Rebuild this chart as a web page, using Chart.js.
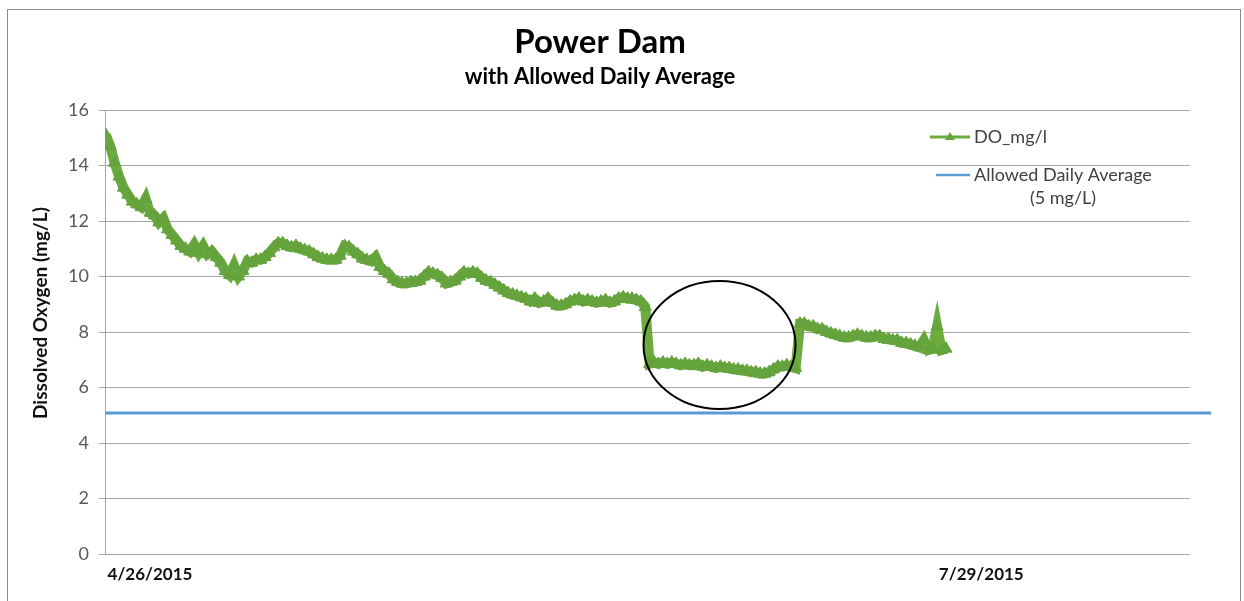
<!DOCTYPE html>
<html>
<head>
<meta charset="utf-8">
<title>Power Dam</title>
<script src="https://cdn.jsdelivr.net/npm/chart.js@4.4.0/dist/chart.umd.min.js"></script>
<style>
  html, body { margin: 0; padding: 0; background: #ffffff; }
  #box { position: relative; width: 1244px; height: 601px; }
</style>
</head>
<body>
<div id="box"><canvas id="myChart"></canvas></div>
<script>
// DATA

var startDay = -5;     // first reading, days after 4/26/2015
var stepDays = 0.5;    // one reading every 12 hours

var doValues = [
  15.1, 14.7, 14.1, 13.6, 13.2, 12.95, 12.7, 12.6, 12.5, 12.8,
  12.3, 12.2, 11.95, 12.1, 11.7, 11.5, 11.3, 11.1, 11.0, 10.9,
  11.15, 10.85, 11.1, 10.8, 10.9, 10.7, 10.5, 10.2, 10.05, 10.4,
  10.0, 10.2, 10.55, 10.5, 10.6, 10.6, 10.7, 10.85, 11.05, 11.2,
  11.2, 11.1, 11.05, 11.1, 11.0, 10.95, 10.9, 10.8, 10.7, 10.65,
  10.6, 10.6, 10.6, 10.75, 11.1, 11.05, 10.9, 10.8, 10.65, 10.6,
  10.55, 10.7, 10.35, 10.2, 10.1, 9.9, 9.8, 9.75, 9.75, 9.8,
  9.8, 9.85, 10.0, 10.15, 10.1, 10.05, 9.95, 9.75, 9.8, 9.85,
  10.0, 10.15, 10.1, 10.15, 10.1, 9.95, 9.85, 9.8, 9.7, 9.6,
  9.5, 9.4, 9.35, 9.3, 9.25, 9.2, 9.1, 9.2, 9.05, 9.1,
  9.2, 9.05, 8.95, 8.95, 9.0, 9.1, 9.15, 9.2, 9.1, 9.15,
  9.1, 9.05, 9.1, 9.15, 9.05, 9.1, 9.2, 9.25, 9.2, 9.2,
  9.15, 9.1, 8.9, 6.85, 6.9, 6.85, 6.9, 6.85, 6.9, 6.85,
  6.8, 6.85, 6.8, 6.8, 6.85, 6.75, 6.8, 6.75, 6.7, 6.75,
  6.7, 6.7, 6.65, 6.65, 6.6, 6.6, 6.55, 6.55, 6.5, 6.5,
  6.55, 6.65, 6.75, 6.75, 6.8, 6.75, 6.7, 8.3, 8.3, 8.2,
  8.2, 8.1, 8.1, 8.0, 7.95, 7.9, 7.85, 7.8, 7.8, 7.85,
  7.9, 7.85, 7.8, 7.8, 7.85, 7.85, 7.75, 7.75, 7.7, 7.7,
  7.6, 7.6, 7.55, 7.5, 7.45, 7.7, 7.35, 7.4, 8.2, 7.35,
  7.4
];

var allowedDays = [-5.1, 120];
var allowedValues = [5.08, 5.08];

var tickDays = [0, 94];
var tickLabels = ['4/26/2015', '7/29/2015'];

// circled part of the curve (day, mg/L)
var circleDay = 64.4;
var circleValue = 7.53;

//-----------------

function buildPoints(){
    var pts = [];
    for (var i = 0; i < doValues.length; i++) {
        pts.push({x: startDay + i * stepDays, y: doValues[i]});
    }
    return pts;
}

function buildAllowed(){
    var pts = [];
    for (var i = 0; i < allowedDays.length; i++) {
        pts.push({x: allowedDays[i], y: allowedValues[i]});
    }
    return pts;
}

var FONT = 'Lato, "Open Sans", sans-serif';

// extra drawing: frame, y title, legend, circle
var extras = {
    id: 'extras',
    beforeDraw: function(chart){
        var c = chart.ctx;
        c.save();
        c.fillStyle = '#ffffff';
        c.fillRect(0, 0, chart.width, chart.height);
        c.restore();
    },
    afterDraw: function(chart){
        var c = chart.ctx;
        var xs = chart.scales.x;
        var ys = chart.scales.y;
        c.save();

        // frame
        c.strokeStyle = '#8c8c8c';
        c.lineWidth = 1;
        c.strokeRect(7.5, 9.5, 1233, 600);

        // y axis title
        c.fillStyle = '#111111';
        c.font = 'bold 19px ' + FONT;
        c.textAlign = 'center';
        c.textBaseline = 'middle';
        c.translate(41, 313);
        c.rotate(-Math.PI / 2);
        c.fillText('Dissolved Oxygen (mg/L)', 0, 0);
        c.setTransform(1, 0, 0, 1, 0, 0);

        // legend
        var ds0 = chart.data.datasets[0];
        var ds1 = chart.data.datasets[1];
        c.strokeStyle = ds0.borderColor;
        c.lineWidth = 3;
        c.beginPath();
        c.moveTo(930, 137);
        c.lineTo(970, 137);
        c.stroke();
        c.fillStyle = ds0.pointBackgroundColor;
        c.beginPath();
        c.moveTo(950, 132);
        c.lineTo(955, 140);
        c.lineTo(945, 140);
        c.closePath();
        c.fill();

        c.strokeStyle = ds1.borderColor;
        c.lineWidth = 2.5;
        c.beginPath();
        c.moveTo(936, 175);
        c.lineTo(970, 175);
        c.stroke();

        c.fillStyle = '#404040';
        c.font = '18px ' + FONT;
        c.textAlign = 'left';
        c.fillText(ds0.label, 974, 137);
        c.fillText(ds1.label, 974, 175);
        c.textAlign = 'center';
        c.fillText('(5 mg/L)', 1063, 198);

        // circle round the low stretch
        c.strokeStyle = '#000000';
        c.lineWidth = 2;
        c.beginPath();
        c.ellipse(xs.getPixelForValue(circleDay), ys.getPixelForValue(circleValue), 76, 64, 0, 0, Math.PI * 2);
        c.stroke();

        c.restore();
    }
};

function graphic(){
    var ctx = document.getElementById('myChart').getContext('2d');
    var chart = new Chart(ctx, {
        type: 'line',
        data: {
            datasets: [{
                label: 'DO_mg/l',
                data: buildPoints(),
                borderColor: '#6cac3f',
                borderWidth: 10,
                pointStyle: 'triangle',
                pointRadius: 7,
                pointBackgroundColor: '#65a33c',
                pointBorderColor: '#65a33c',
                pointBorderWidth: 1,
                tension: 0
            }, {
                label: 'Allowed Daily Average',
                data: buildAllowed(),
                borderColor: '#5b9bd5',
                borderWidth: 3,
                pointRadius: 0,
                clip: false,
                tension: 0
            }]
        },
        options: {
            responsive: true,
            maintainAspectRatio: false,
            animation: false,
            events: [],
            layout: { padding: { left: 10, right: 54, top: 0, bottom: 7 } },
            plugins: {
                legend: { display: false },
                tooltip: { enabled: false },
                title: {
                    display: true,
                    text: 'Power Dam',
                    color: '#000000',
                    font: { family: FONT, size: 33, weight: 'bold' },
                    padding: { top: 23, bottom: 0 }
                },
                subtitle: {
                    display: true,
                    text: 'with Allowed Daily Average',
                    color: '#000000',
                    font: { family: FONT, size: 22, weight: 'bold' },
                    padding: { top: 1, bottom: 20 }
                }
            },
            scales: {
                x: {
                    type: 'linear',
                    min: -5.09,
                    max: 117.6,
                    grid: { display: false, drawTicks: false },
                    border: { display: false },
                    afterBuildTicks: function(scale){
                        scale.ticks = tickDays.map(function(d){ return {value: d}; });
                    },
                    afterFit: function(scale){ scale.height = 40; },
                    ticks: {
                        autoSkip: false,
                        maxRotation: 0,
                        padding: 10,
                        color: '#111111',
                        font: { family: FONT, size: 17, weight: 'bold' },
                        callback: function(value, index){ return tickLabels[index]; }
                    }
                },
                y: {
                    min: 0,
                    max: 16,
                    grid: { color: '#a6a6a6', lineWidth: 1, tickLength: 6 },
                    border: { display: true, color: '#a6a6a6' },
                    afterFit: function(scale){ scale.width = 95; },
                    ticks: {
                        stepSize: 2,
                        padding: 10,
                        color: '#595959',
                        font: { family: FONT, size: 18 }
                    }
                }
            }
        },
        plugins: [extras]
    });
}

graphic();
</script>
</body>
</html>
